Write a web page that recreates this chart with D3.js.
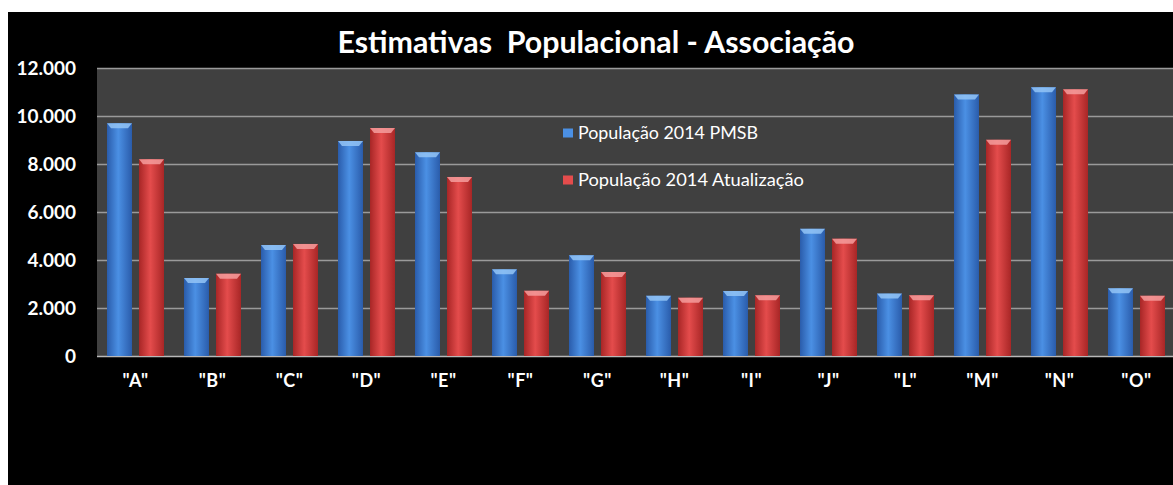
<!DOCTYPE html>
<html>
<head>
<meta charset="utf-8">
<script src="https://cdn.jsdelivr.net/npm/d3@7"></script>
<style>
  body { margin: 0; background: #fff; }
  svg { display: block; }
</style>
</head>
<body>
<svg id="chart"></svg>
<script>
let categories = ['"A"','"B"','"C"','"D"','"E"','"F"','"G"','"H"','"I"','"J"','"L"','"M"','"N"','"O"']
let seriesNames = ['População 2014 PMSB', 'População 2014 Atualização']
let pmsb = [9700, 3250, 4620, 8960, 8490, 3610, 4200, 2510, 2710, 5300, 2600, 10900, 11200, 2820]
let atualizacao = [8200, 3430, 4670, 9500, 7460, 2720, 3500, 2430, 2530, 4890, 2530, 9010, 11110, 2510]
let yTicks = [0, 2000, 4000, 6000, 8000, 10000, 12000]

let width = 1173
let height = 485
let plot = {left: 97, right: 1175, top: 68, bottom: 356}

let colors = [
    {edge: '#2a5cab', mid: '#4b90e4', cap: '#93c4f6'},
    {edge: '#a82626', mid: '#e44c4c', cap: '#f49c9c'}
]

let svg = d3.select('#chart')
            .attr('width', width)
            .attr('height', height)

let locale = d3.formatLocale({decimal: ',', thousands: '.', grouping: [3], currency: ['R$', '']})
let fmt = locale.format(',d')

// background
svg.append('rect')
   .attr('x', 8).attr('y', 12)
   .attr('width', width - 8).attr('height', height - 12)
   .attr('fill', '#000')

svg.append('rect')
   .attr('x', plot.left).attr('y', plot.top)
   .attr('width', plot.right - plot.left).attr('height', plot.bottom - plot.top)
   .attr('fill', '#404040')

let xScale = d3.scaleBand()
               .domain(categories)
               .range([plot.left, plot.right])
               .paddingInner(0.26)
               .paddingOuter(0.13)

let xSub = d3.scaleBand()
             .domain([0, 1])
             .range([0, xScale.bandwidth()])
             .paddingInner(0.22)

let yScale = d3.scaleLinear()
               .domain([0, 12000])
               .range([plot.bottom, plot.top])

// gradients
let defs = svg.append('defs')
colors.forEach((c, i) => {
    let g = defs.append('linearGradient')
                .attr('id', 'grad' + i)
                .attr('x1', '0%').attr('x2', '100%')
                .attr('y1', '0%').attr('y2', '0%')
    g.append('stop').attr('offset', '0%').attr('stop-color', c.edge)
    g.append('stop').attr('offset', '45%').attr('stop-color', c.mid)
    g.append('stop').attr('offset', '100%').attr('stop-color', c.edge)
})

// grid
svg.append('g')
   .selectAll('line')
   .data(yTicks)
   .enter()
   .append('line')
   .attr('x1', plot.left).attr('x2', plot.right)
   .attr('y1', d => yScale(d) + 0.5).attr('y2', d => yScale(d) + 0.5)
   .attr('stroke', d => d === 0 ? '#b8b8b8' : '#9a9a9a')
   .attr('stroke-width', 1.5)

// y labels
svg.append('g')
   .selectAll('text')
   .data(yTicks)
   .enter()
   .append('text')
   .attr('x', 76)
   .attr('y', d => yScale(d))
   .attr('dy', '0.36em')
   .attr('text-anchor', 'end')
   .attr('fill', '#fff')
   .style('font', 'bold 19px Lato, "Open Sans", sans-serif')
   .text(d => fmt(d))

// x labels
svg.append('g')
   .selectAll('text')
   .data(categories)
   .enter()
   .append('text')
   .attr('x', d => xScale(d) + xScale.bandwidth() / 2)
   .attr('y', 381)
   .attr('dy', '0.36em')
   .attr('text-anchor', 'middle')
   .attr('fill', '#fff')
   .style('font', 'bold 18px Lato, "Open Sans", sans-serif')
   .style('letter-spacing', '0.5px')
   .text(d => d)

// bars
let series = [pmsb, atualizacao]
series.forEach((values, s) => {
    let g = svg.append('g')
    let rows = categories.map((c, i) => ({cat: c, value: values[i]}))
    g.selectAll('rect')
     .data(rows)
     .enter()
     .append('rect')
     .attr('x', d => xScale(d.cat) + xSub(s))
     .attr('y', d => yScale(d.value))
     .attr('width', xSub.bandwidth())
     .attr('height', d => yScale(0) - yScale(d.value))
     .attr('fill', 'url(#grad' + s + ')')
    g.selectAll('polygon')
     .data(rows)
     .enter()
     .append('polygon')
     .attr('points', d => {
         let x0 = xScale(d.cat) + xSub(s)
         let x1 = x0 + xSub.bandwidth()
         let y0 = yScale(d.value)
         return [[x0, y0], [x1, y0], [x1 - 4, y0 + 5], [x0 + 4, y0 + 5]].join(' ')
     })
     .attr('fill', colors[s].cap)
     .attr('opacity', 0.85)
})

// title
svg.append('text')
   .attr('x', 596)
   .attr('y', 53)
   .attr('text-anchor', 'middle')
   .attr('fill', '#fff')
   .style('font', 'bold 31px Lato, "Open Sans", sans-serif')
   .style('white-space', 'pre')
   .text('Estimativas  Populacional - Associação')
   .attr('textLength', 517)
   .attr('lengthAdjust', 'spacingAndGlyphs')

// legend
let legend = svg.append('g')
let legendY = [133, 180]
seriesNames.forEach((name, i) => {
    legend.append('rect')
          .attr('x', 563).attr('y', legendY[i] - 4.5)
          .attr('width', 10).attr('height', 9)
          .attr('fill', colors[i].mid)
    legend.append('text')
          .attr('x', 578)
          .attr('y', legendY[i])
          .attr('dy', '0.36em')
          .attr('fill', '#fff')
          .style('font', '17px Lato, "Open Sans", sans-serif')
          .text(name)
          .attr('textLength', i === 0 ? 180 : 226)
          .attr('lengthAdjust', 'spacingAndGlyphs')
})
</script>
</body>
</html>
